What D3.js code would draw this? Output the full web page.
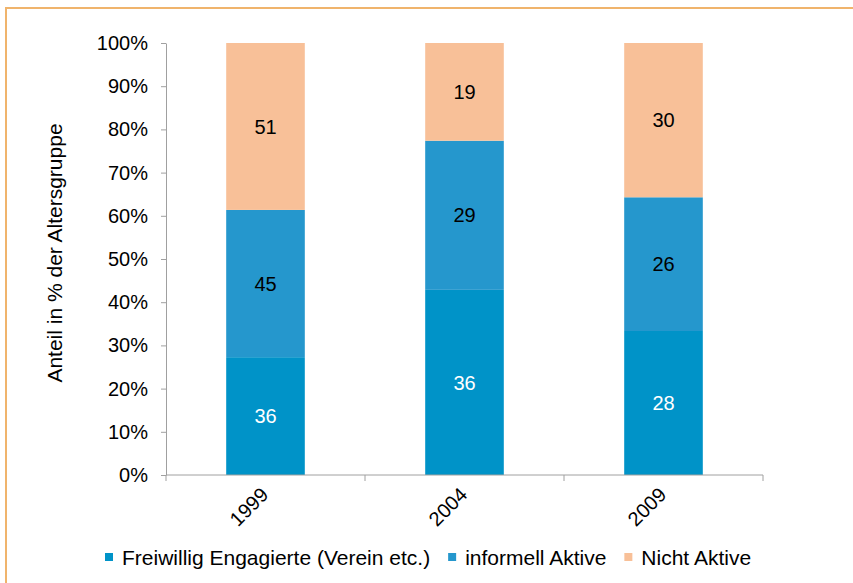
<!DOCTYPE html>
<html>
<head>
    <meta charset="utf-8">
    <script src="https://d3js.org/d3.v7.min.js"></script>
    <style>
        body { margin: 0; background: #fff; }
        svg { display: block; font-family: "Liberation Sans", Arial, sans-serif; }
        .axis path, .axis line { stroke: #a0a0a0; }
        .axis text { fill: #000; font-size: 20px; }
    </style>
</head>
<body>
    <svg id="chart" width="853" height="583"></svg>

    <script>
        const years = ["1999", "2004", "2009"];
        const seriesNames = ["Freiwillig Engagierte (Verein etc.)", "informell Aktive", "Nicht Aktive"];
        const freiwillig = [36, 36, 28];
        const informell = [45, 29, 26];
        const nichtAktive = [51, 19, 30];
        const yTicks = [0, 0.1, 0.2, 0.3, 0.4, 0.5, 0.6, 0.7, 0.8, 0.9, 1];

        const colors = ["#0093c8", "#2597cd", "#f8c098"];
        const labelColors = ["#fff", "#000", "#000"];

        const svg = d3.select("#chart");
        const margin = { top: 43, right: 90, bottom: 108, left: 166 };
        const width = svg.attr("width") - margin.left - margin.right;
        const height = svg.attr("height") - margin.top - margin.bottom;

        // orange frame (only top and left edges are visible)
        svg.append("path")
            .attr("d", "M6,583V8H853")
            .attr("fill", "none")
            .attr("stroke", "#f0b46c")
            .attr("stroke-width", 2);

        const g = svg.append("g")
            .attr("transform", `translate(${margin.left},${margin.top})`);

        // build rows for stacking
        const rows = years.map((y, i) => ({
            year: y,
            [seriesNames[0]]: freiwillig[i],
            [seriesNames[1]]: informell[i],
            [seriesNames[2]]: nichtAktive[i]
        }));

        const stacked = d3.stack()
            .keys(seriesNames)
            .offset(d3.stackOffsetExpand)(rows);

        const x = d3.scaleBand()
            .domain(years)
            .range([0, width]);

        const y = d3.scaleLinear()
            .domain([0, 1])
            .range([height, 0]);

        const barWidth = x.bandwidth() * 0.395;

        const layers = g.selectAll(".layer")
            .data(stacked)
            .join("g")
            .attr("class", "layer")
            .attr("fill", (d, i) => colors[i]);

        layers.selectAll("rect")
            .data(d => d)
            .join("rect")
            .attr("x", d => x(d.data.year) + (x.bandwidth() - barWidth) / 2)
            .attr("y", d => y(d[1]))
            .attr("width", barWidth)
            .attr("height", d => y(d[0]) - y(d[1]));

        // value labels
        stacked.forEach((layer, i) => {
            g.selectAll(".lbl" + i)
                .data(layer)
                .join("text")
                .attr("x", d => x(d.data.year) + x.bandwidth() / 2)
                .attr("y", d => (y(d[0]) + y(d[1])) / 2)
                .attr("dy", "0.36em")
                .attr("text-anchor", "middle")
                .attr("font-size", 20)
                .attr("fill", labelColors[i])
                .text(d => d.data[layer.key]);
        });

        // y axis
        g.append("g")
            .attr("class", "axis")
            .call(d3.axisLeft(y)
                .tickValues(yTicks)
                .tickFormat(d3.format(".0%"))
                .tickSize(5)
                .tickSizeOuter(0)
                .tickPadding(13));

        // x axis: line plus ticks at category boundaries
        const xAxis = g.append("g")
            .attr("class", "axis")
            .attr("transform", `translate(0,${height})`);

        xAxis.append("line")
            .attr("x1", 0).attr("x2", width);

        const bounds = years.map(d => x(d)).concat([x.range()[1]]);
        xAxis.selectAll(".tk")
            .data(bounds)
            .join("line")
            .attr("x1", d => d).attr("x2", d => d)
            .attr("y1", 0).attr("y2", 6);

        xAxis.selectAll(".xl")
            .data(years)
            .join("text")
            .attr("transform", d => `translate(${x(d) + x.bandwidth() / 2 + 4},21) rotate(-45)`)
            .attr("text-anchor", "end")
            .text(d => d);

        // y axis title
        svg.append("text")
            .attr("transform", `translate(62,${margin.top + height / 2 - 6}) rotate(-90)`)
            .attr("text-anchor", "middle")
            .attr("font-size", 21)
            .text("Anteil in % der Altersgruppe");

        // legend
        const legend = svg.append("g")
            .attr("transform", "translate(105,553)");
        let lx = 0;
        seriesNames.forEach((name, i) => {
            legend.append("rect")
                .attr("x", lx).attr("y", 0)
                .attr("width", 8).attr("height", 8)
                .attr("fill", colors[i]);
            const t = legend.append("text")
                .attr("x", lx + 17)
                .attr("y", 11.5)
                .attr("font-size", 21)
                .text(name);
            lx += 17 + t.node().getComputedTextLength() + 18;
        });
    </script>
</body>
</html>
